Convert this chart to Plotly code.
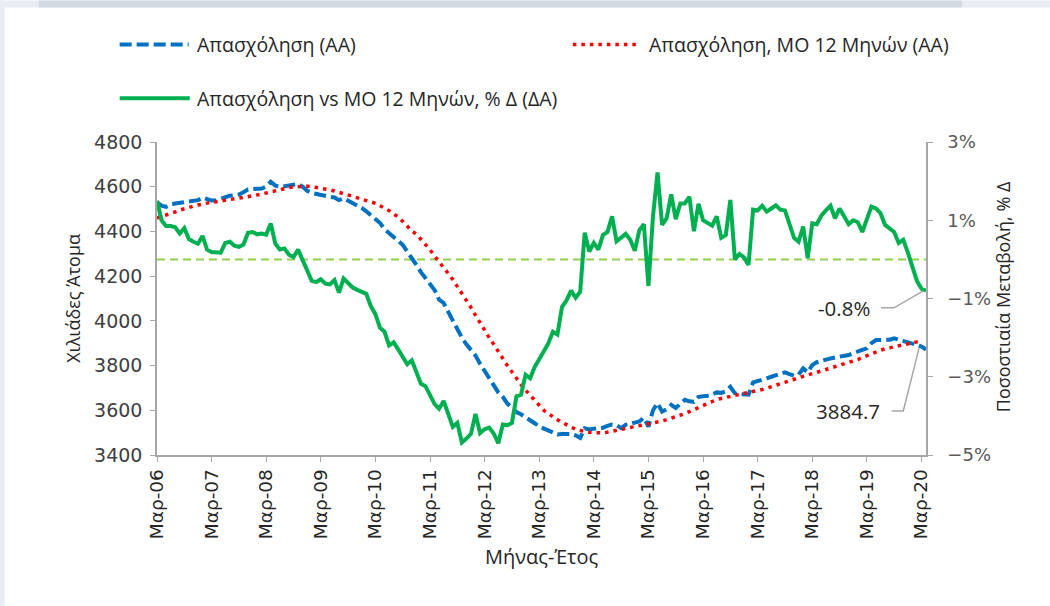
import plotly.graph_objects as go

# ---------------------------------------------------------------------------
# Data (monthly, Mar-06 .. Apr-20)
# ---------------------------------------------------------------------------
MONTHS_GR = ["Ιαν", "Φεβ", "Μαρ", "Απρ", "Μαϊ", "Ιουν",
             "Ιουλ", "Αυγ", "Σεπ", "Οκτ", "Νοε", "Δεκ"]
month_labels = [f"{MONTHS_GR[(2 + k) % 12]}-{(6 + (2 + k) // 12):02d}"
                for k in range(170)]
tick_idx = list(range(0, 170, 12))
tick_text = [month_labels[k] for k in tick_idx]

employment = [
    4530, 4515, 4510, 4520, 4525, 4528, 4530, 4535, 4535, 4540,
    4552, 4545, 4538, 4538, 4545, 4556, 4560, 4562, 4565, 4575,
    4588, 4590, 4590, 4592, 4600, 4622, 4605, 4600, 4602, 4606,
    4608, 4612, 4600, 4582, 4572, 4567, 4562, 4559, 4555, 4552,
    4540, 4548, 4538, 4527, 4518, 4505, 4490, 4472, 4455, 4438,
    4410, 4393, 4378, 4360, 4340, 4310, 4282, 4250, 4218, 4190,
    4160, 4138, 4095, 4080, 4040, 4000, 3960, 3925, 3895, 3868,
    3845, 3808, 3775, 3745, 3712, 3680, 3660, 3630, 3612, 3592,
    3582, 3570, 3557, 3542, 3527, 3518, 3510, 3500, 3492, 3494,
    3495, 3494, 3488, 3476, 3519, 3514, 3518, 3520, 3522, 3530,
    3536, 3534, 3520, 3535, 3542, 3545, 3550, 3567, 3527, 3600,
    3632, 3594, 3605, 3624, 3610, 3628, 3647, 3640, 3638, 3660,
    3662, 3665, 3671, 3680, 3678, 3685, 3705, 3676, 3672, 3672,
    3670, 3725, 3730, 3738, 3743, 3750, 3758, 3765, 3770, 3762,
    3755, 3760, 3787, 3770, 3802, 3815, 3822, 3828, 3832, 3836,
    3840, 3844, 3847, 3856, 3865, 3870, 3877, 3900, 3914, 3915,
    3914, 3916, 3922, 3916, 3914, 3908, 3900, 3892, 3884.7, 3872,
]

employment_ma12 = [
    4460, 4466, 4472, 4480, 4487, 4495, 4502, 4508, 4513, 4518,
    4523, 4528, 4531, 4533, 4537, 4540, 4543, 4546, 4549, 4552,
    4555, 4558, 4562, 4567, 4572, 4577, 4582, 4590, 4593, 4596,
    4599, 4601, 4602, 4602, 4600, 4597, 4594, 4590, 4586, 4581,
    4575, 4568, 4564, 4558, 4551, 4547, 4542, 4534, 4526, 4515,
    4506, 4493, 4478, 4465, 4445, 4425, 4402, 4388, 4365, 4342,
    4318, 4290, 4262, 4239, 4212, 4185, 4155, 4125, 4092, 4060,
    4025, 3990, 3960, 3925, 3895, 3862, 3830, 3800, 3772, 3742,
    3715, 3690, 3667, 3645, 3622, 3600, 3585, 3570, 3558, 3546,
    3535, 3524, 3515, 3510, 3505, 3502, 3500, 3499, 3500, 3502,
    3506, 3509, 3513, 3517, 3522, 3527, 3532, 3537, 3540, 3543,
    3547, 3552, 3558, 3564, 3570, 3577, 3585, 3594, 3603, 3613,
    3623, 3632, 3640, 3648, 3653, 3656, 3662, 3667, 3671, 3673,
    3677, 3681, 3688, 3693, 3699, 3705, 3711, 3718, 3724, 3730,
    3735, 3745, 3752, 3757, 3763, 3770, 3776, 3782, 3791, 3798,
    3803, 3808, 3814, 3820, 3827, 3836, 3845, 3855, 3862, 3869,
    3875, 3880, 3885, 3889, 3895, 3900, 3904, 3906, 3908, None,
]

pct_vs_ma = [
    1.50, 1.00, 0.85, 0.85, 0.82, 0.66, 0.80, 0.52, 0.45, 0.40,
    0.60, 0.25, 0.19, 0.18, 0.17, 0.42, 0.45, 0.35, 0.32, 0.38,
    0.68, 0.70, 0.64, 0.66, 0.63, 0.92, 0.40, 0.25, 0.28, 0.12,
    0.06, 0.25, 0.00, -0.25, -0.55, -0.58, -0.51, -0.62, -0.64, -0.53,
    -0.85, -0.49, -0.62, -0.72, -0.78, -0.84, -0.88, -1.20, -1.40, -1.75,
    -1.85, -2.20, -2.12, -2.30, -2.48, -2.68, -2.58, -2.85, -3.18, -3.24,
    -3.45, -3.70, -3.82, -3.62, -3.95, -4.28, -4.18, -4.68, -4.58, -4.46,
    -3.95, -4.44, -4.34, -4.30, -4.45, -4.70, -4.22, -4.24, -4.18, -3.50,
    -3.46, -2.95, -3.04, -2.75, -2.55, -2.35, -2.15, -1.85, -1.92, -1.22,
    -1.05, -0.80, -0.98, -0.83, 0.68, 0.20, 0.42, 0.25, 0.62, 0.70,
    1.10, 0.46, 0.55, 0.65, 0.50, 0.22, 0.74, 0.90, -0.68, 1.10,
    2.22, 0.88, 1.05, 1.66, 1.03, 1.43, 1.43, 1.60, 0.72, 1.42,
    1.00, 0.93, 0.86, 1.10, 0.55, 0.62, 1.52, 0.00, 0.14, 0.05,
    -0.14, 1.27, 1.25, 1.37, 1.22, 1.30, 1.38, 1.27, 1.25, 0.90,
    0.55, 0.45, 0.84, 0.03, 0.92, 0.90, 1.12, 1.25, 1.37, 1.05,
    1.30, 1.10, 0.90, 1.00, 0.95, 0.70, 1.05, 1.35, 1.30, 1.18,
    0.88, 0.80, 0.70, 0.42, 0.50, 0.18, -0.18, -0.55, -0.75, -0.80,
]

x_idx = list(range(len(month_labels)))

# ---------------------------------------------------------------------------
# Styling
# ---------------------------------------------------------------------------
BLUE, RED, GREEN, LIME = "#0070c0", "#ff0000", "#00b050", "#92d050"
AXIS = "#a6a6a6"
TXT = "#262626"
TEXT_FONT = "Open Sans"
NUM_FONT = "DejaVu Sans"

W, H = 1050, 606
L, R, T, B = 157.3, 926.0, 141.7, 455.0      # plot area in pixels


def px(x):
    return (x - L) / (R - L)


def py(y):
    return (B - y) / (B - T)


def label(x, y, text, size, angle=0, anchor="center", family=TEXT_FONT):
    return dict(xref="paper", yref="paper", x=px(x), y=py(y), text=text,
                xanchor=anchor, yanchor="middle", textangle=angle,
                showarrow=False, font=dict(family=family, size=size, color=TXT))


fig = go.Figure()
fig.add_trace(go.Scatter(
    x=x_idx, y=employment, mode="lines", name="Απασχόληση (ΑΑ)",
    line=dict(color=BLUE, width=4, dash="12px,5px"),
))
fig.add_trace(go.Scatter(
    x=x_idx, y=employment_ma12, mode="lines",
    name="Απασχόληση, ΜΟ 12 Μηνών (ΑΑ)",
    line=dict(color=RED, width=3.5, dash="3.5px,5px"),
))
fig.add_trace(go.Scatter(
    x=x_idx, y=pct_vs_ma, mode="lines", yaxis="y2",
    name="Απασχόληση vs ΜΟ 12 Μηνών, % Δ (ΔΑ)",
    line=dict(color=GREEN, width=4),
))

shapes = [
    # page frame bits
    dict(type="rect", xref="paper", yref="paper", x0=px(0), x1=px(W),
         y0=py(0), y1=py(7), fillcolor="#e8edf4", line_width=0, layer="below"),
    dict(type="rect", xref="paper", yref="paper", x0=px(39), x1=px(962),
         y0=py(0), y1=py(7), fillcolor="#d3dae2", line_width=0, layer="below"),
    dict(type="rect", xref="paper", yref="paper", x0=px(0), x1=px(5),
         y0=py(0), y1=py(H), fillcolor="#e8edf4", line_width=0, layer="below"),
    # zero reference on the right axis
    dict(type="line", xref="paper", yref="y2", x0=0, x1=1, y0=0, y1=0,
         line=dict(color=LIME, width=2, dash="8px,5px"), layer="below"),
    # leader lines for the end labels
    dict(type="path", xref="paper", yref="paper",
         path=f"M {px(881)},{py(307.7)} L {px(894)},{py(307.7)} "
              f"L {px(923.3)},{py(290.7)}",
         line=dict(color=AXIS, width=1.5)),
    dict(type="path", xref="paper", yref="paper",
         path=f"M {px(891.7)},{py(411)} L {px(903.3)},{py(411)} "
              f"L {px(919)},{py(348.3)}",
         line=dict(color=AXIS, width=1.5)),
    # manual legend samples
    dict(type="line", xref="paper", yref="paper", x0=px(120), x1=px(189),
         y0=py(44), y1=py(44), line=dict(color=BLUE, width=4, dash="12px,5px")),
    dict(type="line", xref="paper", yref="paper", x0=px(573), x1=px(637),
         y0=py(44), y1=py(44), line=dict(color=RED, width=3.5, dash="3.5px,5px")),
    dict(type="line", xref="paper", yref="paper", x0=px(120), x1=px(190),
         y0=py(98), y1=py(98), line=dict(color=GREEN, width=4)),
]

annotations = [
    label(195, 44, fig.data[0].name, 19.5, anchor="left"),
    label(647, 44, fig.data[1].name, 19.5, anchor="left"),
    label(195, 98, fig.data[2].name, 19.5, anchor="left"),
    # end labels
    label(844, 307.7, "-0.8%", 20.5),
    label(848.5, 411, "3884.7", 20.5),
    # axis titles
    label(73, 298, "Χιλιάδες Άτομα", 18, angle=-90),
    label(1003, 297, "Ποσοστιαία Μεταβολή, % Δ", 18, angle=-90),
    label(542, 557, "Μήνας-Έτος", 20),
]

fig.update_layout(
    width=W, height=H,
    margin=dict(l=L, r=W - R, t=T, b=H - B, autoexpand=False),
    paper_bgcolor="white", plot_bgcolor="white",
    showlegend=False,
    shapes=shapes, annotations=annotations,
    xaxis=dict(
        range=[0, 169], tickmode="array", tickvals=tick_idx, ticktext=tick_text,
        tickangle=-90, ticks="outside", ticklen=5, tickcolor=AXIS,
        showline=True, linecolor=AXIS, linewidth=1.5, showgrid=False,
        zeroline=False,
        tickfont=dict(family=NUM_FONT, size=18.5, color=TXT),
    ),
    yaxis=dict(
        range=[3400, 4800], dtick=200, ticks="outside", ticklen=5,
        tickcolor=AXIS, showline=True, linecolor=AXIS, linewidth=1.5,
        showgrid=False, zeroline=False, ticklabelstandoff=4,
        tickfont=dict(family=NUM_FONT, size=19, color="#404040"),
    ),
    yaxis2=dict(
        range=[-5, 3], dtick=2, tick0=-5, ticksuffix="%", overlaying="y",
        side="right", ticks="outside", ticklen=5, tickcolor=AXIS,
        showline=True, linecolor=AXIS, linewidth=1.5, showgrid=False,
        zeroline=False, ticklabelstandoff=11,
        tickfont=dict(family=NUM_FONT, size=18, color="#595959"),
    ),
)

fig.write_html("out.html", config={"displayModeBar": False},
               post_script="document.body.style.margin = '0';")
